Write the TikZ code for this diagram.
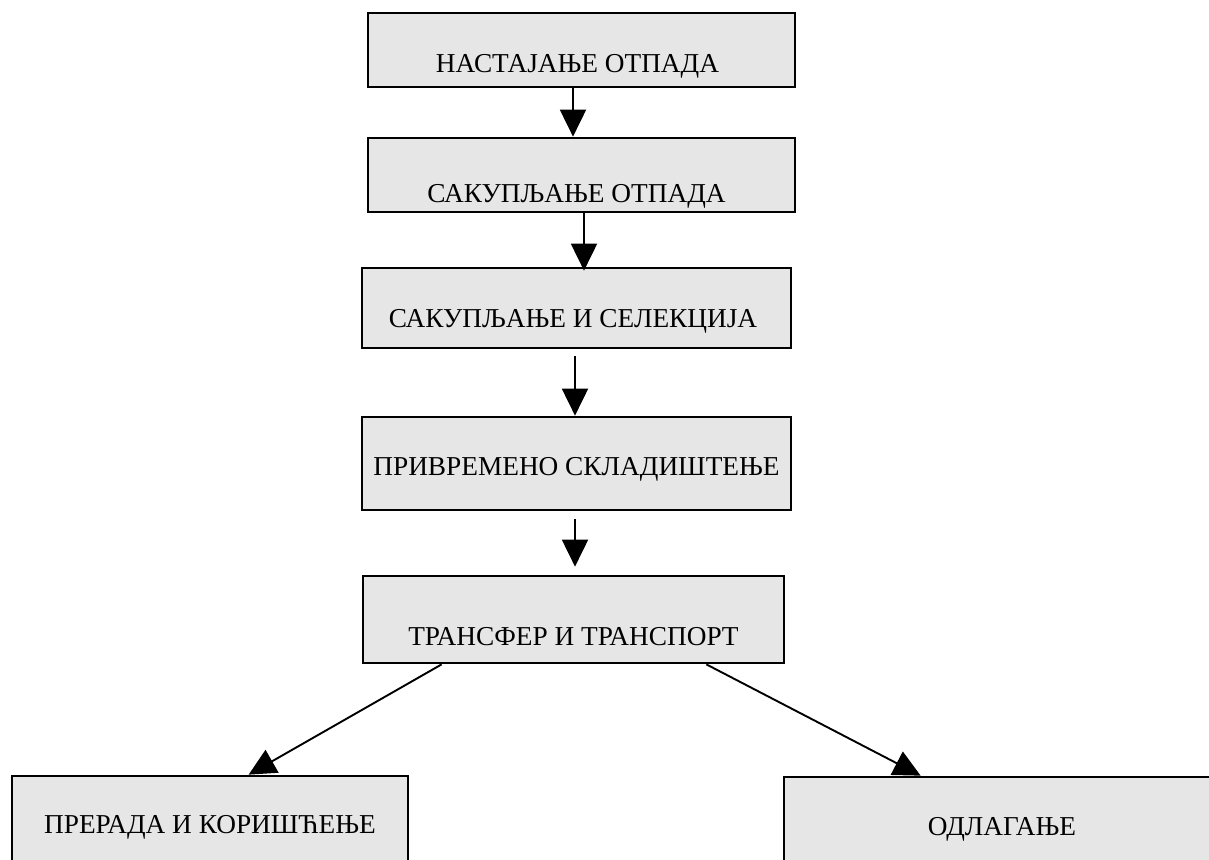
\documentclass[tikz,border=0pt]{standalone}
\usepackage{fontspec}
\setmainfont{Liberation Serif}
\usetikzlibrary{arrows.meta}
\definecolor{boxgray}{RGB}{230,230,230}
\begin{document}
\begin{tikzpicture}[x=1pt,y=1pt,
  stagebox/.style={draw=black, line width=2.7pt, fill=boxgray, rectangle,
    inner sep=0pt, font=\fontsize{27.3}{30}\selectfont},
  flow/.style={line width=1.9pt, -{Triangle[length=27pt,width=26pt]}}]
\useasboundingbox (0,0) rectangle (1209,-859);
\clip (0,0) rectangle (1209,-859);
\fill[white] (0,0) rectangle (1209,-859);

\node[stagebox, minimum width=427pt, text height=59pt, text depth=15pt] (n1) at (581.5,-50) {\hspace*{-8pt}НАСТАЈАЊЕ ОТПАДА};
\node[stagebox, minimum width=427pt, text height=64pt, text depth=10pt] (n2) at (581.5,-175) {\hspace*{-10pt}САКУПЉАЊЕ ОТПАДА};
\node[stagebox, minimum width=429pt, text height=59pt, text depth=21pt] (n3) at (576.5,-308) {\hspace*{-7pt}САКУПЉАЊЕ И СЕЛЕКЦИЈА};
\node[stagebox, minimum width=429pt, text height=58pt, text depth=35pt] (n4) at (576.5,-463.5) {ПРИВРЕМЕНО СКЛАДИШТЕЊЕ};
\node[stagebox, minimum width=421pt, text height=69pt, text depth=18pt] (n5) at (573.5,-619.5) {ТРАНСФЕР И ТРАНСПОРТ};
\node[stagebox, minimum width=396pt, text height=57pt, text depth=47pt] (n6) at (210,-828) {ПРЕРАДА И КОРИШЋЕЊЕ};
\node[stagebox, minimum width=436pt, text height=58pt, text depth=45pt] (n7) at (1002,-828.5) {ОДЛАГАЊЕ};

\draw[flow] ([xshift=-8.5pt]n1.south) -- ([xshift=-8.5pt]n2.north);
\draw[flow, shorten >=-4pt] ([xshift=2.5pt]n2.south) -- ([xshift=7.5pt]n3.north);
\draw[flow, shorten <=7pt] ([xshift=-1.5pt]n3.south) -- ([xshift=-1.5pt]n4.north);
\draw[flow, shorten <=8pt, shorten >=8pt] ([xshift=-1.5pt]n4.south) -- ([xshift=1.5pt]n5.north);
\draw[flow] ([xshift=80pt]n5.south west) -- ([xshift=238pt]n6.north west);
\draw[flow] ([xshift=-79pt]n5.south east) -- ([xshift=138pt]n7.north west);
\end{tikzpicture}
\end{document}
